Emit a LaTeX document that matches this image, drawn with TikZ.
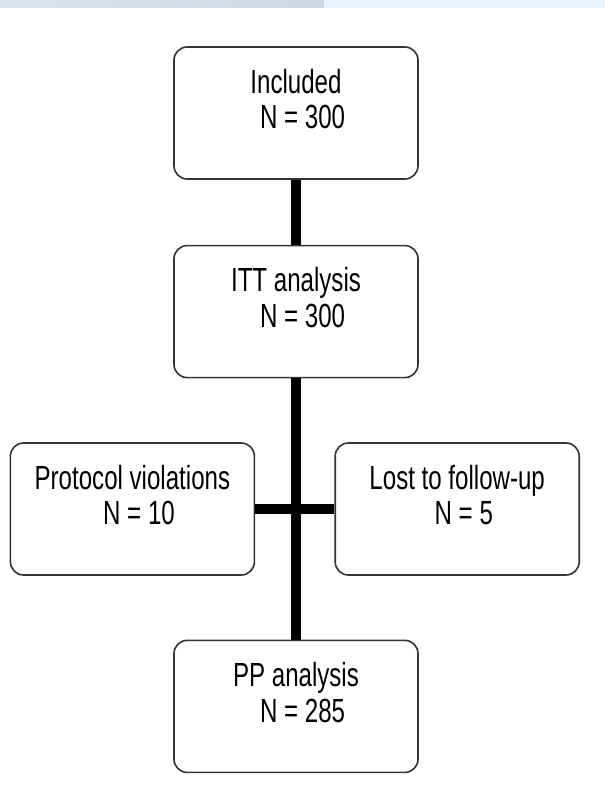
\documentclass[tikz,border=0pt]{standalone}
\usepackage{fontspec}
\setmainfont{Liberation Sans}[FakeStretch=0.72]

\definecolor{bandleft}{HTML}{D9E4EC}
\definecolor{bandmid}{HTML}{CCD8E1}
\definecolor{bandright}{HTML}{E9F4FC}

\tikzset{
  flowbox/.style={draw=black!80, line width=0.04cm, rounded corners=0.33cm,
    fill=white, align=center, minimum width=6.1cm, inner sep=0pt,
    text height=2.05cm, text depth=1.25cm,
    font=\fontsize{23.8}{25.6}\selectfont},
  link/.style={line width=0.27cm}
}

\begin{document}
\begin{tikzpicture}
\useasboundingbox (0,0) rectangle (15.125,19.85);
% header band
\shade[left color=bandleft, right color=bandmid] (0,19.65) rectangle (8.1,19.85);
\fill[bandright] (8.1,19.65) rectangle (15.125,19.85);
% boxes
\node[flowbox] (included) at (7.4,17.025) {Included\\\hspace*{0.33cm}N = 300};
\node[flowbox] (itt) at (7.4,12.06) {ITT analysis\\\hspace*{0.33cm}N = 300};
\node[flowbox] (protocol) at (3.31,7.125) {Protocol violations\\\hspace*{0.33cm}N = 10};
\node[flowbox] (lost) at (11.43,7.125) {Lost to follow-up\\\hspace*{0.33cm}N = 5};
\node[flowbox] (pp) at (7.4,2.19) {PP analysis\\\hspace*{0.33cm}N = 285};
% links
\draw[link] (included) -- (itt);
\draw[link] (itt) -- (pp);
\draw[link] (protocol) -- (lost);
\end{tikzpicture}
\end{document}
